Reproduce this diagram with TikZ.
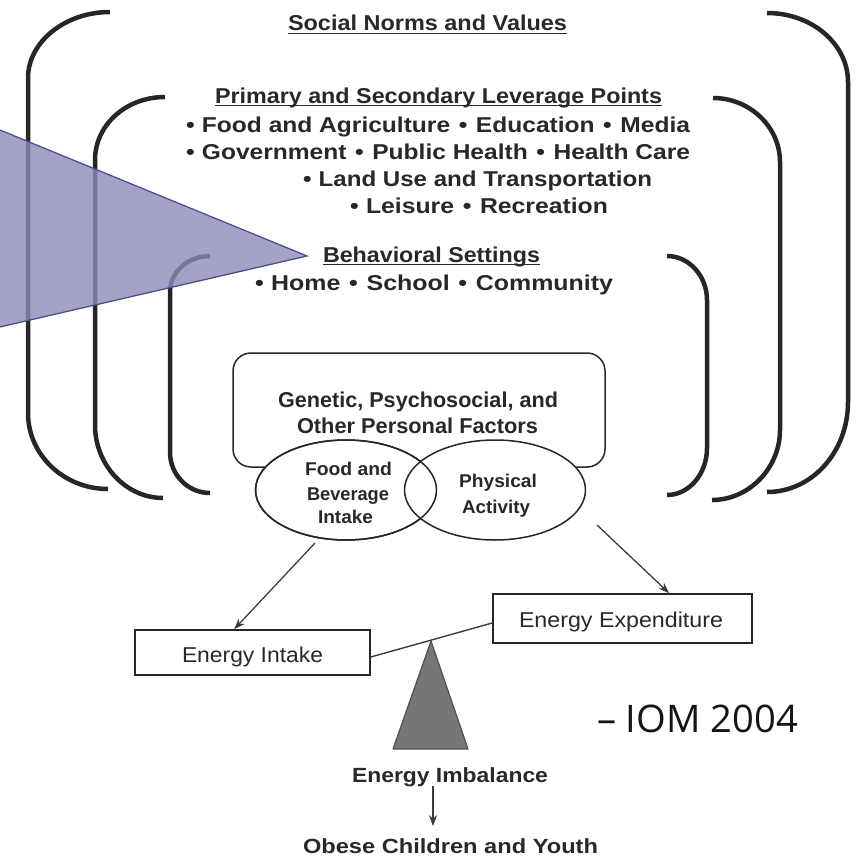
\documentclass[tikz,border=0pt]{standalone}
\usepackage{fontspec}
\usepackage{graphicx}
\setmainfont{Liberation Sans}
\newfontfamily\iomfont{Open Sans}
\usetikzlibrary{shapes.geometric,arrows.meta}
\definecolor{ink}{RGB}{40,40,40}
\definecolor{brk}{RGB}{38,38,38}
\definecolor{tri}{RGB}{140,140,186}
\definecolor{triedge}{RGB}{78,78,148}
\definecolor{fulc}{RGB}{118,118,118}
\newsavebox\wfitbox
\newsavebox\ulxbox
\newcommand\wfit[2]{\sbox\wfitbox{#2}\pgfmathsetmacro\wfitr{#1/\the\wd\wfitbox}\scalebox{\wfitr}[1]{\usebox\wfitbox}}
\newcommand\ulx[1]{\sbox\ulxbox{#1}\rlap{\rule[-3pt]{\wd\ulxbox}{1.5pt}}\usebox\ulxbox}
\newcommand\bul{\hspace{0.35em}\textbullet\hspace{0.35em}}
\newcommand\hdrfont{\fontsize{21.5}{24}\selectfont\bfseries}
\newcommand\genfont{\fontsize{21.5}{24}\selectfont\bfseries}
\newcommand\ellfont{\fontsize{18.5}{22}\selectfont\bfseries}
\newcommand\boxfont{\fontsize{21.5}{24}\selectfont}
\newcommand\botfont{\fontsize{20.5}{24}\selectfont\bfseries}
\begin{document}
\begin{tikzpicture}[x=1pt,y=-1pt,
  bracket/.style={draw=brk, line width=4.5pt},
  tx/.style={inner sep=0pt, outer sep=0pt, anchor=base west, text=ink},
  pbox/.style={draw=brk, line width=1.5pt, rounded corners=18pt, inner sep=0pt},
  ell/.style={ellipse, draw=brk, line width=1.5pt, fill=white, inner sep=0pt, minimum width=181pt, minimum height=100pt},
  ellline/.style={draw=brk, line width=1.5pt},
  ebox/.style={draw=brk, line width=1.6pt, inner sep=0pt},
  arr/.style={draw=brk!90, line width=1.3pt, -{Stealth[length=11pt,width=8pt]}},
  lever/.style={draw=brk!90, line width=1.4pt}
]
\useasboundingbox (0,0) rectangle (856,859);
\clip (0,0) rectangle (856,859);

% brackets
\draw[bracket] (110,12) .. controls (65,12) and (28,42) .. (28,78) -- (28,413) .. controls (28,455) and (64,489) .. (108,489);
\draw[bracket] (165,97) .. controls (126,97) and (95,125) .. (95,160) -- (95,425) .. controls (95,465) and (126,498) .. (163,498);
\draw[bracket] (210,256) .. controls (188,256) and (170,272) .. (170,292) -- (170,452) .. controls (170,475) and (188,493) .. (210,493);
\draw[bracket] (767,13) .. controls (812,13) and (848,44) .. (848,82) -- (848,402) .. controls (848,452) and (812,492) .. (767,492);
\draw[bracket] (713,98) .. controls (750,98) and (780,127) .. (780,162) -- (780,430) .. controls (780,468) and (749,500) .. (712,500);
\draw[bracket] (667,256) .. controls (689,256) and (707,276) .. (707,300) -- (707,448) .. controls (707,474) and (689,495) .. (667,495);

% headings and lists
\node[tx] (social) at (288,31) {\hdrfont\wfit{279}{\ulx{Social Norms and Values}}};
\node[tx] (primary) at (215,103) {\hdrfont\wfit{447}{\ulx{Primary and Secondary Leverage Points}}};
\node[tx] (l1) at (186,132) {\hdrfont\wfit{504}{\textbullet\hspace{0.3em}Food and Agriculture\bul Education\bul Media}};
\node[tx] (l2) at (186,159) {\hdrfont\wfit{504}{\textbullet\hspace{0.3em}Government\bul Public Health\bul Health Care}};
\node[tx] (l3) at (303,186) {\hdrfont\wfit{349}{\textbullet\hspace{0.3em}Land Use and Transportation}};
\node[tx] (l4) at (350,213) {\hdrfont\wfit{258}{\textbullet\hspace{0.3em}Leisure\bul Recreation}};
\node[tx] (behav) at (323,262) {\hdrfont\wfit{217}{\ulx{Behavioral Settings}}};
\node[tx] (l5) at (255,290) {\hdrfont\wfit{358}{\textbullet\hspace{0.3em}Home\bul School\bul Community}};

% personal factors box
\node[pbox, minimum width=372pt, minimum height=114pt] (pers) at (419,410) {};
\node[tx] (gen1) at (278,407) {\genfont\wfit{280}{Genetic, Psychosocial, and}};
\node[tx] (gen2) at (297,433) {\genfont\wfit{241}{Other Personal Factors}};

% ellipses
\node[ell] (food) at (346,490) {};
\node[ell] (phys) at (495,490) {};
\draw[ellline] (food.center) ellipse [x radius=90.5pt, y radius=50pt];
\node[tx] (f1) at (305,475) {\ellfont\wfit{87}{Food and}};
\node[tx] (f2) at (307,500) {\ellfont\wfit{82}{Beverage}};
\node[tx] (f3) at (318,523) {\ellfont\wfit{55}{Intake}};
\node[tx] (p1) at (459,487) {\ellfont\wfit{78}{Physical}};
\node[tx] (p2) at (462,513) {\ellfont\wfit{68}{Activity}};

% energy boxes
\node[ebox, minimum width=235pt, minimum height=45pt] (eint) at (252.5,652.5) {};
\node[ebox, minimum width=259pt, minimum height=49pt] (eexp) at (622.5,618.5) {};
\node[tx] (teint) at (182,662) {\boxfont\wfit{141}{Energy Intake}};
\node[tx] (teexp) at (519,627) {\boxfont\wfit{204}{Energy Expenditure}};

% arrows from ellipses
\coordinate (fa) at (315,543);
\coordinate (pa) at (597,525);
\draw[arr] (fa) -- ([xshift=100pt]eint.north west);
\draw[arr] (pa) -- ([xshift=177pt]eexp.north west);

% lever and fulcrum
\draw[lever] ([yshift=-4.5pt]eint.east) -- ([yshift=-4.5pt]eexp.west);
\filldraw[fill=fulc, draw=brk!80, line width=1.2pt, line join=round] (431,641) -- (468,749) -- (393,749) -- cycle;

% bottom texts
\node[tx] (eimb) at (352,782) {\botfont\wfit{196}{Energy Imbalance}};
\node[tx] (obese) at (303,853) {\botfont\wfit{295}{Obese Children and Youth}};
\coordinate (ax) at (433,0);
\draw[arr] (eimb.south -| ax) -- ([yshift=12pt]obese.north -| ax);

% citation
\node[tx, text=black!92] (iom) at (597,732) {\iomfont\fontsize{38}{44}\selectfont\wfit{201}{– IOM 2004}};

% overlaid pointer triangle
\fill[tri, fill opacity=0.8] (-30,117.7) -- (307,256) -- (-30,333.9) -- cycle;
\draw[triedge, line width=1.3pt, line join=miter] (-30,117.7) -- (307,256) -- (-30,333.9);
\end{tikzpicture}
\end{document}
